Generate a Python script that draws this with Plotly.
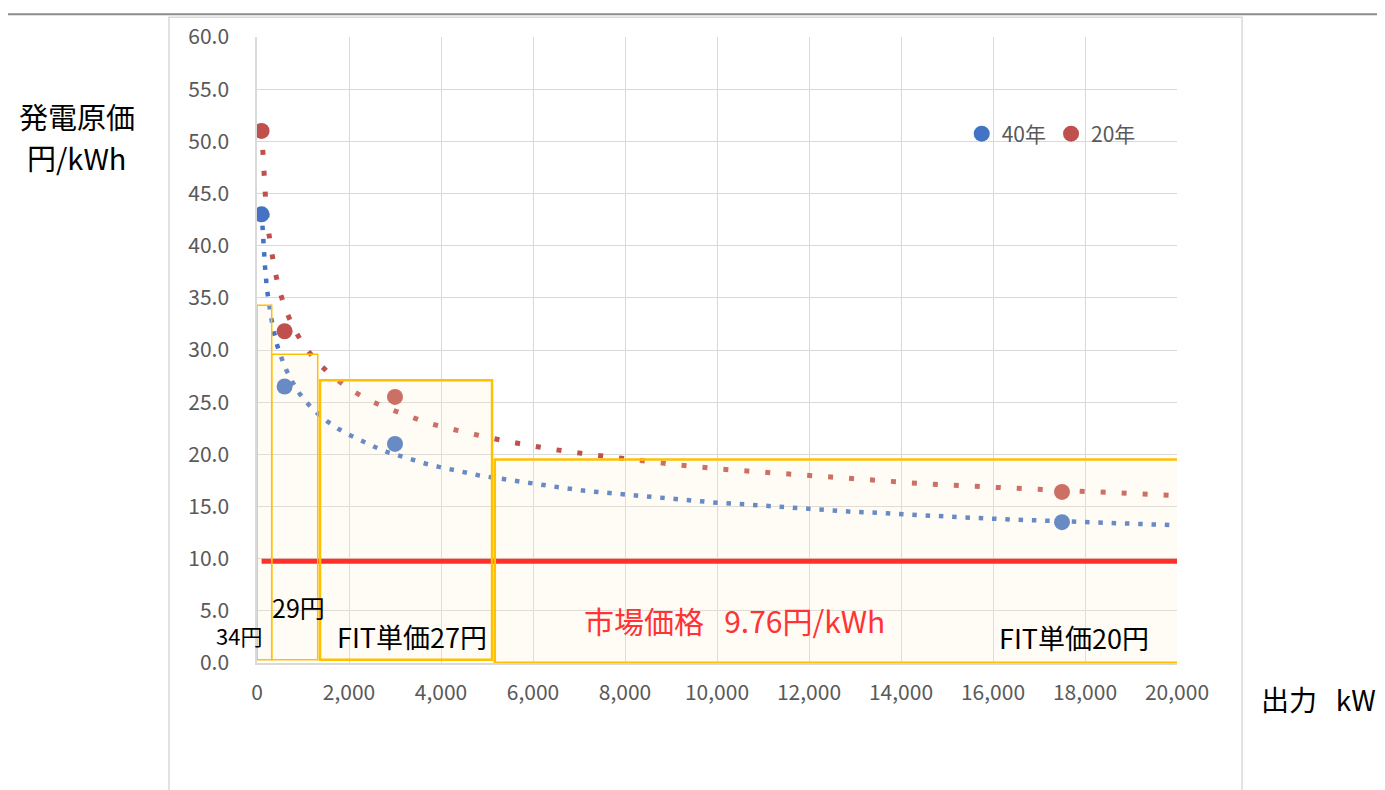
import plotly.graph_objects as go

# ---- data ----
SIZES_KW = [100, 600, 3000, 17500]
COST_40Y = [43.0, 26.5, 21.0, 13.5]
COST_20Y = [51.0, 31.8, 25.5, 16.4]

TREND40_X = [100, 130, 174, 217, 261, 312, 370, 442, 536, 645, 775, 928, 1116, 1319, 1543,
             1783, 2036, 2304, 2565, 2841, 3116, 3391, 3674, 3957, 4239, 4529, 4812, 5094,
             5391, 5971, 6551, 7130, 7710, 8289, 8870, 9449, 10029, 10609, 11188, 11768,
             12348, 12928, 13507, 14376, 15267, 16427, 18180, 20000]
TREND40_Y = [43.2, 40.5, 38.0, 35.8, 34.2, 33.0, 31.7, 30.4, 29.2, 28.0, 26.9, 25.8, 24.8, 23.9, 23.1,
             22.4, 21.8, 21.2, 20.7, 20.2, 19.8, 19.4, 19.1, 18.8, 18.5, 18.25, 18.0, 17.8,
             17.6, 17.15, 16.85, 16.5, 16.25, 16.0, 15.8, 15.55, 15.35, 15.2, 15.0, 14.8,
             14.67, 14.5, 14.4, 14.15, 13.97, 13.75, 13.45, 13.2]

TREND20_X = [100, 116, 138, 159, 196, 239, 304, 377, 482, 616, 797, 1036, 1319, 1659, 2029,
             2428, 2848, 3275, 3710, 4152, 4594, 5036, 5485, 5942, 6391, 7304, 7754, 8210,
             8667, 9123, 10029, 10942, 11855, 13224, 13680, 14594, 15971, 17804, 19630, 20000]
TREND20_Y = [51.2, 49.7, 47.7, 45.7, 43.7, 41.7, 39.7, 37.8, 35.8, 33.9, 32.1, 30.3, 28.8, 27.4, 26.2,
             25.2, 24.4, 23.7, 23.0, 22.5, 22.0, 21.6, 21.2, 20.85, 20.5, 19.95, 19.7, 19.5,
             19.25, 19.0, 18.6, 18.3, 17.95, 17.55, 17.4, 17.15, 16.85, 16.47, 16.13, 16.05]

MARKET_X = [100, 20000]
MARKET_PRICE = 9.76

# FIT price zones (x range in kW, top in 円/kWh)
ZONE_X0 = [0, 320, 1370, 5170]
ZONE_X1 = [320, 1320, 5110, 20100]
ZONE_TOP = [34.3, 29.6, 27.1, 19.5]
ZONE_BOTTOM = [0.3, 0.3, 0.3, 0.03]
ZONE_LABELS = ["34円", "29円", "FIT単価27円", "FIT単価20円"]

SERIES_NAMES = ["40年", "20年"]
X_TICKS = list(range(0, 20001, 2000))
Y_TICKS = [i * 5 for i in range(13)]

BLUE = "#4472C4"
RED = "#C0504D"
FONT = "Noto Sans CJK JP"
GRAY = "#595959"

fig = go.Figure()

fig.add_trace(go.Scatter(
    x=TREND40_X, y=TREND40_Y, mode="lines",
    line=dict(color=BLUE, width=4.5, dash="4.5px,8.8px"),
    showlegend=False, hoverinfo="skip"))
fig.add_trace(go.Scatter(
    x=TREND20_X, y=TREND20_Y, mode="lines",
    line=dict(color=RED, width=5, dash="5px,16px"),
    showlegend=False, hoverinfo="skip"))

fig.add_trace(go.Scatter(
    x=SIZES_KW, y=COST_40Y, mode="markers", name=SERIES_NAMES[0],
    marker=dict(color=BLUE, size=16)))
fig.add_trace(go.Scatter(
    x=SIZES_KW, y=COST_20Y, mode="markers", name=SERIES_NAMES[1],
    marker=dict(color=RED, size=16)))

fig.add_trace(go.Scatter(
    x=MARKET_X, y=[MARKET_PRICE] * len(MARKET_X), mode="lines",
    line=dict(color="#FF0000", width=5), showlegend=False, hoverinfo="skip"))

shapes = []
widths = [1.5, 1.5, 2.5, 2.5]
for x0, x1, top, bot, w in zip(ZONE_X0, ZONE_X1, ZONE_TOP, ZONE_BOTTOM, widths):
    shapes.append(dict(type="rect", xref="x", yref="y", x0=x0, x1=x1, y0=bot, y1=top,
                       line=dict(color="#FFC000", width=w),
                       fillcolor="rgba(255,240,205,0.2)", layer="above"))

# outer chart frame and top rule
shapes.append(dict(type="rect", xref="paper", yref="paper", x0=-0.0957, x1=1.0707,
                   y0=-0.3, y1=1.0317, line=dict(color="#D9D9D9", width=1.5), layer="below"))
shapes.append(dict(type="line", xref="paper", yref="paper", x0=-0.3, x1=1.3,
                   y0=1.0365, y1=1.0365, line=dict(color="#8C8C8C", width=2)))


def label(text, x, y, size, color="black"):
    return dict(text=text, xref="paper", yref="paper", x=x, y=y,
                xanchor="center", yanchor="middle", showarrow=False, align="center",
                font=dict(family=FONT, size=size, color=color))


annotations = [
    label("発電原価", -0.1957, 0.8732, 29),
    label("円/kWh", -0.1957, 0.8082, 29),
    label("出力\u00a0\u00a0 kW", 1.1533, -0.057, 28),
    label(ZONE_LABELS[0], -0.0196, 0.0444, 22),
    label(ZONE_LABELS[1], 0.0446, 0.0887, 25),
    label(ZONE_LABELS[2], 0.1685, 0.0428, 27),
    label(ZONE_LABELS[3], 0.888, 0.0412, 27),
    label("市場価格\u00a0\u00a0 %.2f円/kWh" % MARKET_PRICE, 0.5185, 0.0681, 30, "#FF3333"),
]

fig.update_layout(
    width=1377, height=782,
    margin=dict(l=249, r=208, t=24, b=127),
    paper_bgcolor="white", plot_bgcolor="white",
    font=dict(family=FONT, color=GRAY),
    shapes=shapes, annotations=annotations,
    legend=dict(orientation="h", x=0.766, y=0.845, xanchor="left", yanchor="middle",
                font=dict(family=FONT, size=21, color=GRAY), bgcolor="rgba(0,0,0,0)",
                itemwidth=30),
    xaxis=dict(range=[0, 20000], tickvals=X_TICKS, tickformat=",d",
               showgrid=True, gridcolor="#D9D9D9", gridwidth=1,
               zeroline=False, showline=True, linecolor="#D9D9D9", linewidth=1.5,
               ticks="", ticklabelstandoff=10,
               tickfont=dict(family=FONT, size=21, color=GRAY)),
    yaxis=dict(range=[0, 60], tickvals=Y_TICKS, tickformat=".1f",
               showgrid=True, gridcolor="#D9D9D9", gridwidth=1,
               zeroline=False, showline=True, linecolor="#D9D9D9", linewidth=1.5,
               ticks="", ticklabelstandoff=22,
               tickfont=dict(family=FONT, size=21, color=GRAY)),
)

fig.write_html("out.html")
